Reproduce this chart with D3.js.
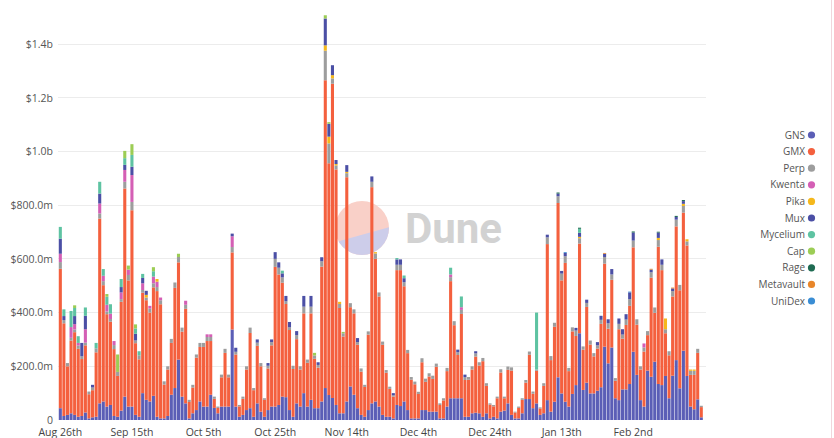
<!DOCTYPE html>
<html><head><meta charset="utf-8">
<script src="https://cdn.jsdelivr.net/npm/d3@7"></script>
<style>
html,body{margin:0;padding:0;background:#fff;}
svg{display:block;font-family:"Open Sans","Noto Sans",sans-serif;}
</style>
</head><body>
<svg id="chart" width="834" height="438"></svg>
<script>
// ---------- DATA (values in $ millions, one per day from Aug 26th 2022) ----------
const startDay = "2022-08-26";
const dayCount = 180;

const seriesNames = ["GNS","GMX","Perp","Kwenta","Pika","Mux","Mycelium","Cap","Rage","Metavault","UniDex"];
const seriesColors = ["#5b5eb6","#f4603e","#9d9d9d","#d45fb5","#f5b81c","#4b4fa5","#5ec3a2","#9ccd55","#1f6b52","#e8862a","#3a8dd4"];

const gns = [44,15,19,25,19,12,15,28,6,10,12,62,69,50,56,15,12,35,87,50,
 50,19,12,100,75,69,90,12,6,6,15,94,119,225,87,62,6,25,37,69,
 50,50,94,45,25,50,50,50,337,50,12,19,37,44,12,62,31,12,37,50,
 50,56,87,85,37,12,62,50,100,50,75,44,44,69,119,93,82,56,25,25,
 69,125,94,44,19,12,37,62,69,50,19,12,12,6,56,52,69,37,6,6,
 6,37,37,31,31,31,6,6,50,81,81,81,81,12,12,25,27,25,12,25,
 6,12,6,31,35,62,19,6,6,25,78,78,44,62,19,25,74,31,68,159,
 99,68,50,97,130,323,112,139,99,99,109,122,273,211,270,81,74,114,114,134,
 254,168,74,50,184,161,217,134,130,164,81,165,223,118,258,164,50,40,77,10];

const gmx = [519,345,181,271,308,253,212,250,90,101,240,688,433,344,310,249,152,405,775,470,
 731,267,214,374,371,331,404,468,425,126,173,193,373,362,242,352,61,96,195,203,
 222,244,200,34,20,109,200,109,287,194,39,60,151,280,99,214,169,63,155,228,
 520,486,424,347,298,178,239,138,297,163,322,184,151,502,1146,863,1170,877,392,286,
 835,295,303,236,161,111,281,805,531,410,261,164,104,81,502,506,429,212,144,127,
 91,178,105,131,122,167,50,67,132,436,272,161,314,137,138,163,209,178,207,102,
 51,39,75,146,46,125,165,22,39,50,61,165,54,121,24,102,581,192,279,649,
 421,517,132,233,183,334,150,282,182,138,157,236,309,129,252,65,264,189,240,291,
 389,187,114,205,132,369,182,511,428,159,160,295,498,365,514,486,118,128,173,38];

const perp = [25,12,12,10,10,12,10,10,10,10,15,19,15,10,10,15,15,10,25,20,
 31,10,15,10,10,15,15,15,15,12,12,15,20,20,15,15,8,10,12,15,
 15,15,15,8,5,10,15,10,20,10,5,8,12,20,8,12,12,6,10,12,
 30,25,20,10,10,12,15,12,25,12,25,12,10,20,110,74,20,15,15,12,
 15,15,15,10,12,8,12,20,20,15,12,10,8,5,20,20,15,12,10,10,
 8,15,12,12,12,12,6,8,12,15,15,10,15,10,10,12,12,12,12,10,
 5,5,6,12,6,12,12,3,5,6,10,12,8,5,4,10,25,15,15,25,
 25,25,12,15,20,20,12,15,15,12,12,15,25,20,20,10,20,15,20,25,
 25,20,12,15,15,20,20,25,20,15,15,20,25,20,25,15,15,15,15,5];

// smaller series: [day index, value]
const kwentaPts = [[0,31],[3,40],[4,20],[5,10],[7,50],[11,37],[12,20],[13,25],[14,20],[15,15],[17,25],[18,44],[19,20],[20,100],[23,25],[25,10],[26,25],[27,20],[28,10],[35,15],[41,10],[42,10],[48,40],[109,10],[112,10],[163,15]];
const pikaPts = [[24,10],[27,10],[74,20],[75,25],[76,12],[77,5],[78,8],[80,5],[88,5],[145,5],[167,8],[169,40],[174,8],[175,8],[176,5],[177,5]];
const muxPts = [[0,56],[1,15],[4,30],[6,50],[7,50],[9,10],[11,37],[17,20],[18,19],[20,31],[21,25],[23,20],[24,15],[48,10],[49,15],[55,12],[58,10],[59,10],
 [60,25],[61,20],[62,15],[63,20],[64,20],[66,15],[68,40],[70,40],[72,10],[73,15],[74,100],[75,48],[76,37],[77,15],[80,25],[83,15],[87,20],[93,8],[94,20],[95,20],[96,15],
 [111,10],[113,10],[116,8],[136,10],[139,10],[140,10],[141,12],[144,10],[145,15],[147,12],[150,12],[151,15],[152,12],[153,15],[154,20],[156,20],[157,20],[158,20],[159,25],
 [160,30],[165,10],[167,20],[168,20],[171,10],[172,10],[174,10]];
const myceliumPts = [[0,44],[1,25],[3,60],[4,30],[5,25],[7,31],[10,20],[11,44],[12,25],[13,30],[14,35],[17,30],[18,25],[20,44],[21,20],[22,15],[23,15],[26,20],[62,10],[94,5],[96,10],[109,25],[112,40],[133,212],[145,15]];
const capPts = [[4,10],[13,10],[16,65],[18,27],[19,15],[20,40],[21,15],[26,15],[33,12],[71,10],[74,12],[75,6],[79,5]];
const ragePts = [[139,4],[145,4],[160,4],[167,3],[172,4],[174,4]];
const metavaultPts = [[152,3],[165,3],[171,3]];
const unidexPts = [[141,3],[159,3]];

const yTicks = [0,200,400,600,800,1000,1200,1400];
const yTickLabels = ["0","$200.0m","$400.0m","$600.0m","$800.0m","$1.0b","$1.2b","$1.4b"];
const xTickLabels = ["Aug 26th","Sep 15th","Oct 5th","Oct 25th","Nov 14th","Dec 4th","Dec 24th","Jan 13th","Feb 2nd"];

// ---------- BUILD TABLE ----------
const sparse = {Kwenta:kwentaPts,Pika:pikaPts,Mux:muxPts,Mycelium:myceliumPts,Cap:capPts,Rage:ragePts,Metavault:metavaultPts,UniDex:unidexPts};
const parseDay = d3.utcParse("%Y-%m-%d");
const days = d3.utcDay.range(parseDay(startDay), d3.utcDay.offset(parseDay(startDay), dayCount));
const rows = days.map((d,i)=>{
  const r = {idx:i, date:d, GNS:gns[i], GMX:gmx[i], Perp:perp[i]};
  for (const k of Object.keys(sparse)) r[k] = 0;
  return r;
});
for (const [k,pts] of Object.entries(sparse)) for (const [i,v] of pts) rows[i][k] = v;

// ---------- CHART ----------
const svg = d3.select("#chart");
const x = d3.scaleBand().domain(rows.map(r=>r.idx)).range([58.6, 703]).paddingInner(0.14).paddingOuter(0.05);
const y = d3.scaleLinear().domain([0,1400]).range([420,44]);
const color = d3.scaleOrdinal().domain(seriesNames).range(seriesColors);

// gridlines
svg.append("g").selectAll("line").data(yTicks.slice(1)).join("line")
  .attr("x1",58).attr("x2",706).attr("y1",d=>y(d)).attr("y2",d=>y(d))
  .attr("stroke","#ececec").attr("stroke-width",1).attr("shape-rendering","crispEdges");

// watermark (behind the bars)
const wm = svg.append("g").attr("pointer-events","none");
const cx = 362, cy = 228, rr = 27;
const defs = svg.append("defs");
defs.append("clipPath").attr("id","wmclip").append("circle").attr("cx",cx).attr("cy",cy).attr("r",rr);
const wg = wm.append("g").attr("clip-path","url(#wmclip)");
wg.append("rect").attr("x",cx-rr).attr("y",cy-rr).attr("width",2*rr).attr("height",2*rr).attr("fill","#f9d0c8");
wg.append("path").attr("d",`M${cx-rr-2},${cy+rr*0.55} L${cx+rr+2},${cy-rr*0.05} L${cx+rr+2},${cy+rr+2} L${cx-rr-2},${cy+rr+2} Z`)
  .attr("fill","#cdcdea");
wm.append("text").attr("x",405).attr("y",243).text("Dune")
  .attr("fill","#d2d2d2").style("font-size","42px").style("font-weight","bold")
  .style("font-family","Roboto,'Open Sans',sans-serif");

// stacked bars
const stacked = d3.stack().keys(seriesNames)(rows);
svg.append("g").selectAll("g").data(stacked).join("g")
  .attr("fill",s=>color(s.key))
  .selectAll("rect").data(s=>s.filter(p=>p[1]-p[0]>0)).join("rect")
  .attr("x",p=>x(p.data.idx)).attr("width",x.bandwidth())
  .attr("y",p=>y(p[1])).attr("height",p=>Math.max(0,y(p[0])-y(p[1])));

// y axis
const yAxis = svg.append("g").attr("transform","translate(57,0)")
  .call(d3.axisLeft(y).tickValues(yTicks).tickFormat((d,i)=>yTickLabels[i]).tickSize(0).tickPadding(4));
yAxis.select(".domain").remove();
yAxis.selectAll("text").attr("fill","#555").style("font-size","10.5px").style("font-family","'Open Sans',sans-serif");

// x axis
const xAxis = svg.append("g").attr("transform","translate(0,420)")
  .call(d3.axisBottom(x).tickValues(d3.range(0,dayCount,20)).tickFormat((d,i)=>xTickLabels[i]).tickSize(0).tickPadding(9));
xAxis.select(".domain").remove();
xAxis.selectAll("text").attr("fill","#444").style("font-size","10.5px").style("font-family","'Open Sans',sans-serif");

// legend
const lg = svg.append("g").selectAll("g").data(seriesNames).join("g")
  .attr("transform",(d,i)=>`translate(0,${135 + i*16.6})`);
lg.append("text").attr("x",805).attr("y",0).attr("dy","0.35em").attr("text-anchor","end")
  .attr("fill","#555").style("font-size","10px").text(d=>d);
lg.append("circle").attr("cx",811.5).attr("cy",0).attr("r",3.6).attr("fill",d=>color(d));

// right frame line
svg.append("line").attr("x1",831.5).attr("x2",831.5).attr("y1",0).attr("y2",438)
  .attr("stroke","#f1d6dc").attr("stroke-width",1);
</script>
</body></html>
